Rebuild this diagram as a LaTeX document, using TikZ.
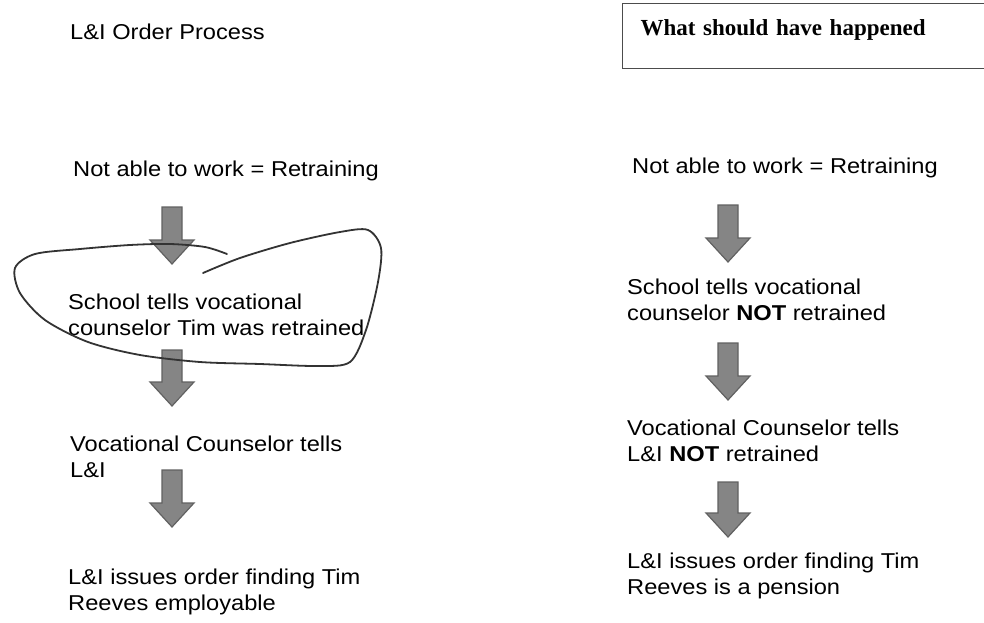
\documentclass[tikz,border=0pt]{standalone}
\usepackage{fontspec}
\setmainfont[FakeStretch=1.1]{Liberation Sans}
\newfontfamily\headfont{Liberation Serif}
\usepackage{tikz}
\usetikzlibrary{positioning}
\tikzstyle{txt} = [anchor=west, align=left, inner sep=0pt, font=\fontsize{21.5}{26}\selectfont]
\tikzstyle{headbox} = [anchor=north west, draw=black!70, line width=1.2pt, align=left, inner xsep=18pt, inner ysep=10pt, text height=22pt, text depth=23pt, text width=362pt, font=\headfont\bfseries\fontsize{23}{26}\selectfont]
\tikzstyle{blockarrow} = [fill=black!48, draw=black!62, line width=1.2pt, line join=miter]
\tikzstyle{scribble} = [draw=black!80, line width=1.8pt, line cap=round, line join=round]
\tikzset{
  pics/downarrow/.style={code={
    \draw[blockarrow] (-10,0) -- (10,0) -- (10,#1-24) -- (22,#1-24) -- (0,#1)
      -- (-22,#1-24) -- (-10,#1-24) -- cycle;
  }}
}

\begin{document}
\begin{tikzpicture}[x=1pt, y=-1pt]
            \useasboundingbox (0,0) rectangle (984,623);

            % Left column: the order process
            \node (title) [txt] at (70,32) {L\&I Order Process};
            \node (notable) [txt] at (73,171) {Not able to work = Retraining};
            \node (school) [txt] at (68,315) {School tells vocational\\counselor Tim was retrained};
            \node (voc) [txt] at (70,457) {Vocational Counselor tells\\L\&I};
            \node (order) [txt] at (68,592) {L\&I issues order finding Tim\\Reeves employable};

            % Right column: the expected process
            \node (shouldbox) [headbox] at (622,3) {What should have happened};
            \node (notable2) [txt] at (632,168) {Not able to work = Retraining};
            \node (school2) [txt] at (627,300) {School tells vocational\\counselor \textbf{NOT} retrained};
            \node (voc2) [txt] at (627,441) {Vocational Counselor tells\\L\&I \textbf{NOT} retrained};
            \node (order2) [txt] at (627,576) {L\&I issues order finding Tim\\Reeves is a pension};

            % Block arrows
            \pic (arrL1) at (172,207) {downarrow=57};
            \pic (arrL2) at (172,350) {downarrow=56};
            \pic (arrL3) at (172,470) {downarrow=57};
            \pic (arrR1) at (728,205) {downarrow=57};
            \pic (arrR2) at (728,343) {downarrow=57};
            \pic (arrR3) at (728,482) {downarrow=55};

            % Hand-drawn loop round the school step
            \draw [scribble] plot [smooth, tension=0.5] coordinates {
                (203,273) (240,258) (290,243) (340,232) (368,230) (381,248)
                (378,282) (366,330) (350,362) (318,366) (260,364) (200,362)
                (140,355) (88,342) (45,320) (20,293) (15,268) (35,254)
                (80,249) (130,245) (170,244) (205,247) (227,254)};
\end{tikzpicture}
\end{document}
